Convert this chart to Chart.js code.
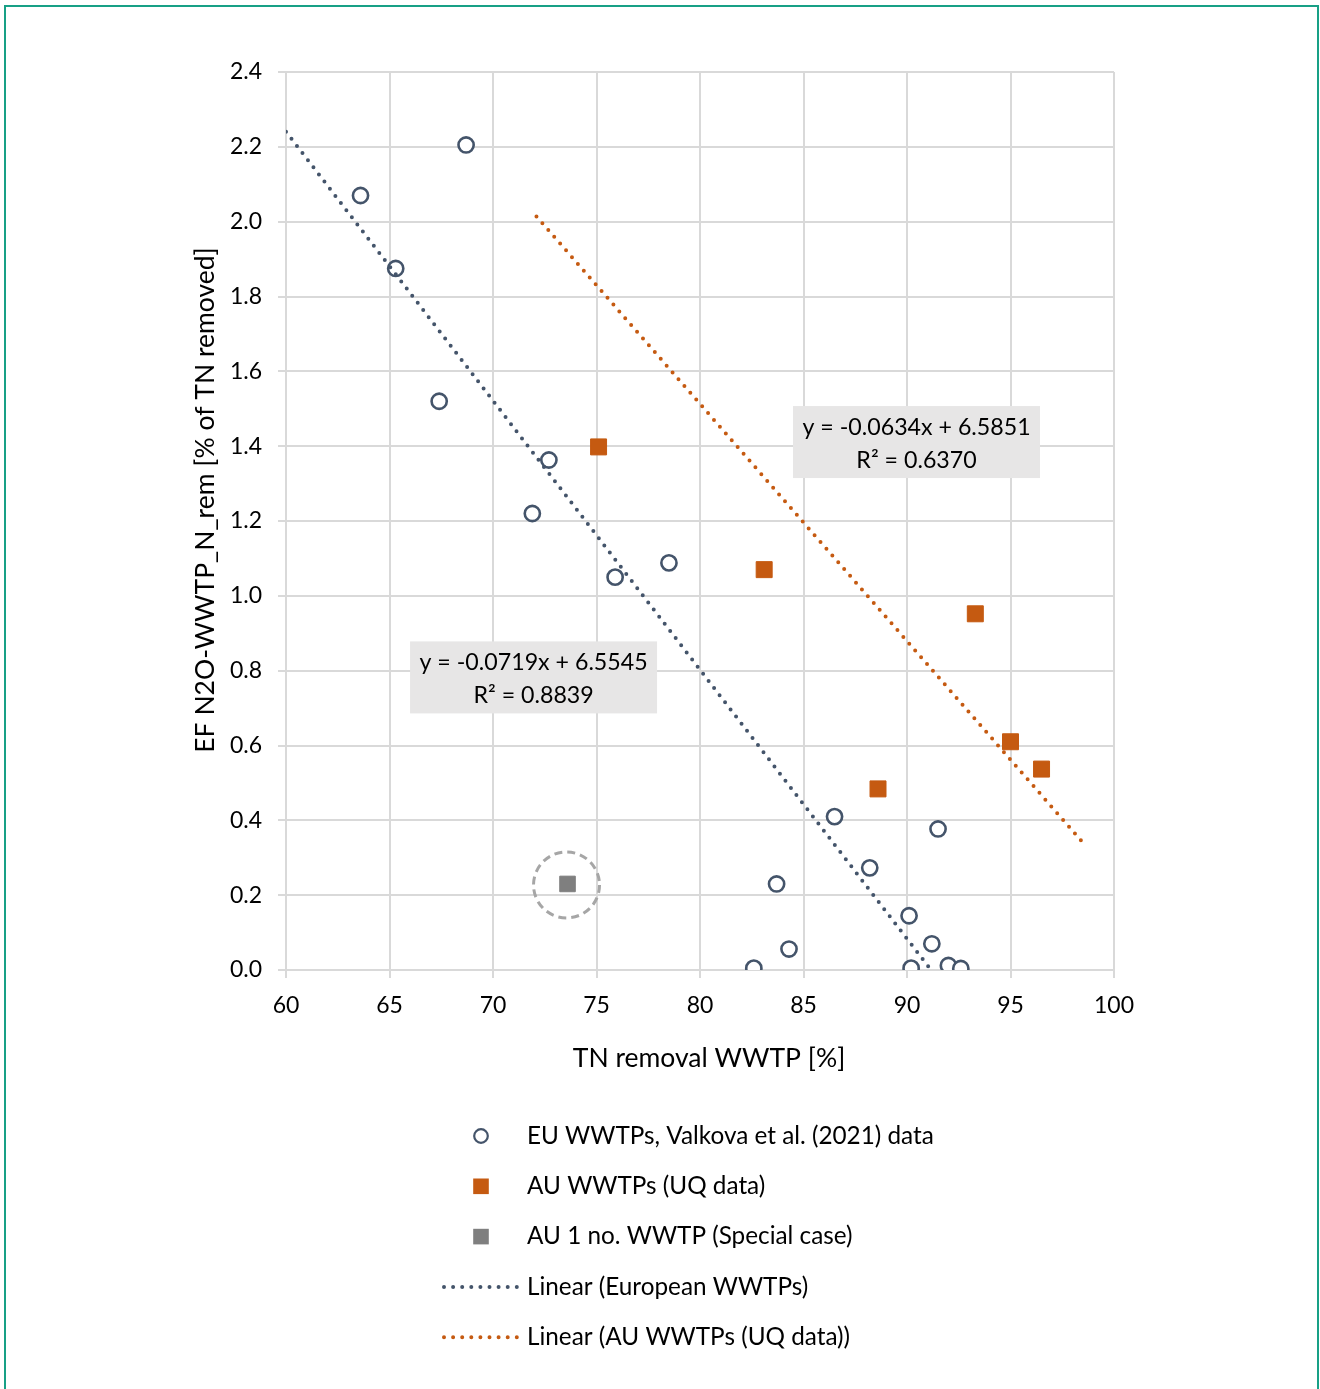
<!DOCTYPE html>
<html>
<head>
<meta charset="utf-8">
<script src="https://cdn.jsdelivr.net/npm/chart.js@4.4.0/dist/chart.umd.min.js"></script>
<style>
  html, body { margin: 0; padding: 0; background: #ffffff; }
  #wrap { position: relative; width: 1320px; height: 1389px; }
</style>
</head>
<body>
<div id="wrap"><canvas id="c" width="1320" height="1389"></canvas></div>
<script>
// European plants (Valkova et al. 2021): TN removal [%] and emission factor
const euRemoval = [63.6, 68.7, 65.3, 67.4, 72.7, 71.9, 75.9, 78.5, 86.5, 91.5, 83.7, 88.2, 90.1, 84.3, 82.6, 90.2, 91.2, 92.0, 92.6];
const euEF      = [2.07, 2.205, 1.875, 1.52, 1.363, 1.22, 1.05, 1.088, 0.41, 0.377, 0.23, 0.273, 0.145, 0.056, 0.005, 0.005, 0.07, 0.012, 0.004];

// Australian plants (UQ data)
const auRemoval = [75.1, 83.1, 93.3, 95.0, 96.5, 88.6];
const auEF      = [1.398, 1.07, 0.952, 0.61, 0.537, 0.484];

// Australian special-case plant
const specialRemoval = [73.6];
const specialEF      = [0.23];

// Linear trendlines (equation labels)
const euSlope = -0.0719, euIntercept = 6.5545, euR2 = '0.8839';
const auSlope = -0.0634, auIntercept = 6.5851, auR2 = '0.6370';
const euTrendFrom = 60.0;
const auTrendFrom = 72.1, auTrendTo = 98.5;

// Axis ranges
const xMin = 60, xMax = 100, xStep = 5;
const yMin = 0, yMax = 2.4, yStep = 0.2;

const labels = {
  eu: 'EU WWTPs, Valkova et al. (2021) data',
  au: 'AU WWTPs (UQ data)',
  special: 'AU 1 no. WWTP (Special case)',
  euTrend: 'Linear (European WWTPs)',
  auTrend: 'Linear (AU WWTPs (UQ data))'
};
const xTitle = 'TN removal WWTP [%]';
const yTitle = 'EF N2O-WWTP_N_rem [% of TN removed]';

const FONT = 'Lato, "Open Sans", sans-serif';
const BLUE = '#44546A', ORANGE = '#C55A11', GREY = '#7F7F7F', GRID = '#D9D9D9';

const pts = (xs, ys) => xs.map((x, i) => ({ x, y: ys[i] }));
const line = (m, b, x0, x1) => [{ x: x0, y: m * x0 + b }, { x: x1, y: m * x1 + b }];
const euTrendTo = -euIntercept / euSlope;   // trendline meets y = 0

const trendStyle = (color) => ({
  type: 'line', showLine: true, fill: false, pointRadius: 0,
  borderColor: color, borderWidth: 4, borderDash: [0, 9], borderCapStyle: 'round',
  order: 0
});

// Extra drawing: frame, special-case ring, equation boxes, axis titles, legend
const extras = {
  id: 'extras',
  beforeDraw(chart) {
    const c = chart.ctx;
    c.save();
    c.fillStyle = '#ffffff';
    c.fillRect(0, 0, chart.width, chart.height);
    c.strokeStyle = '#18A086';
    c.lineWidth = 2;
    c.strokeRect(5, 6, 1313, 1420);
    c.restore();
  },
  afterDatasetsDraw(chart) {
    const c = chart.ctx, xs = chart.scales.x, ys = chart.scales.y;
    c.save();
    // dashed ring around the special case
    const px = xs.getPixelForValue(specialRemoval[0]), py = ys.getPixelForValue(specialEF[0]);
    c.beginPath();
    c.arc(px - 1, py + 1, 33, 0, Math.PI * 2);
    c.strokeStyle = '#A6A6A6';
    c.lineWidth = 3;
    c.setLineDash([8, 5]);
    c.stroke();
    c.setLineDash([]);

    // regression equation boxes
    const box = (cx, cy, m, b, r2) => {
      const x = xs.getPixelForValue(cx), y = ys.getPixelForValue(cy);
      const w = 247, h = 72;
      c.fillStyle = '#E7E6E6';
      c.fillRect(x - w / 2, y - h / 2, w, h);
      c.fillStyle = '#000';
      c.font = '23.2px ' + FONT;
      c.textAlign = 'center';
      c.textBaseline = 'middle';
      c.fillText('y = ' + m.toFixed(4) + 'x + ' + b.toFixed(4), x, y - 15);
      c.fillText('R\u00B2 = ' + r2, x, y + 18);
    };
    box(90.46, 1.411, auSlope, auIntercept, auR2);
    box(71.96, 0.782, euSlope, euIntercept, euR2);
    c.restore();
  },
  afterDraw(chart) {
    const c = chart.ctx;
    c.save();
    c.fillStyle = '#000';
    c.textBaseline = 'middle';
    // axis titles
    c.font = '26.5px ' + FONT;
    c.textAlign = 'center';
    c.fillText(xTitle, 709, 1058);
    c.translate(205, 500);
    c.rotate(-Math.PI / 2);
    c.fillText(yTitle, 0, 0);
    c.restore();

    // legend
    c.save();
    const rows = [
      { kind: 'circle', color: BLUE, text: labels.eu },
      { kind: 'rect', color: ORANGE, text: labels.au },
      { kind: 'rect', color: GREY, text: labels.special },
      { kind: 'line', color: BLUE, text: labels.euTrend },
      { kind: 'line', color: ORANGE, text: labels.auTrend }
    ];
    const mx = 481, tx = 527, y0 = 1136, dy = 50.3;
    rows.forEach((r, i) => {
      const y = y0 + i * dy;
      if (r.kind === 'circle') {
        c.beginPath();
        c.arc(mx, y, 6.8, 0, Math.PI * 2);
        c.fillStyle = '#fff'; c.fill();
        c.strokeStyle = r.color; c.lineWidth = 2.2; c.stroke();
      } else if (r.kind === 'rect') {
        c.fillStyle = r.color;
        c.fillRect(mx - 7.8, y - 7.8, 15.6, 15.6);
      } else {
        c.beginPath();
        c.moveTo(444, y); c.lineTo(517, y);
        c.strokeStyle = r.color; c.lineWidth = 4; c.lineCap = 'round';
        c.setLineDash([0, 9.1]);
        c.stroke();
        c.setLineDash([]);
      }
      c.fillStyle = '#000';
      c.font = '24.3px ' + FONT;
      c.textAlign = 'left';
      c.textBaseline = 'middle';
      c.fillText(r.text, tx, y);
    });
    c.restore();
  }
};

new Chart(document.getElementById('c'), {
  type: 'scatter',
  data: {
    datasets: [
      Object.assign(trendStyle(BLUE), { label: labels.euTrend, data: line(euSlope, euIntercept, euTrendFrom, euTrendTo) }),
      Object.assign(trendStyle(ORANGE), { label: labels.auTrend, data: line(auSlope, auIntercept, auTrendFrom, auTrendTo) }),
      { label: labels.eu, data: pts(euRemoval, euEF), pointStyle: 'circle', pointRadius: 7.6,
        borderWidth: 2.6, borderColor: BLUE, backgroundColor: '#ffffff', order: 1 },
      { label: labels.au, data: pts(auRemoval, auEF), pointStyle: 'rect', pointRadius: 11.3,
        borderWidth: 1, borderColor: ORANGE, backgroundColor: ORANGE, order: 1 },
      { label: labels.special, data: pts(specialRemoval, specialEF), pointStyle: 'rect', pointRadius: 11,
        borderWidth: 1, borderColor: GREY, backgroundColor: GREY, order: 1 }
    ]
  },
  options: {
    responsive: false,
    animation: false,
    events: [],
    layout: { padding: { left: 0, right: 206, top: 72, bottom: 309 } },
    plugins: { legend: { display: false }, tooltip: { enabled: false } },
    scales: {
      x: {
        type: 'linear', min: xMin, max: xMax,
        afterFit: (s) => { s.height = 110; },
        ticks: { stepSize: xStep, color: '#000', padding: 14, font: { family: FONT, size: 23 } },
        grid: { color: GRID, lineWidth: 2, tickLength: 8 },
        border: { color: GRID, width: 2 }
      },
      y: {
        type: 'linear', min: yMin, max: yMax,
        afterFit: (s) => { s.width = 286; },
        ticks: { stepSize: yStep, color: '#000', padding: 16, font: { family: FONT, size: 23 },
                 callback: (v) => v.toFixed(1) },
        grid: { color: GRID, lineWidth: 2, tickLength: 8 },
        border: { color: GRID, width: 2 }
      }
    }
  },
  plugins: [extras]
});
</script>
</body>
</html>
